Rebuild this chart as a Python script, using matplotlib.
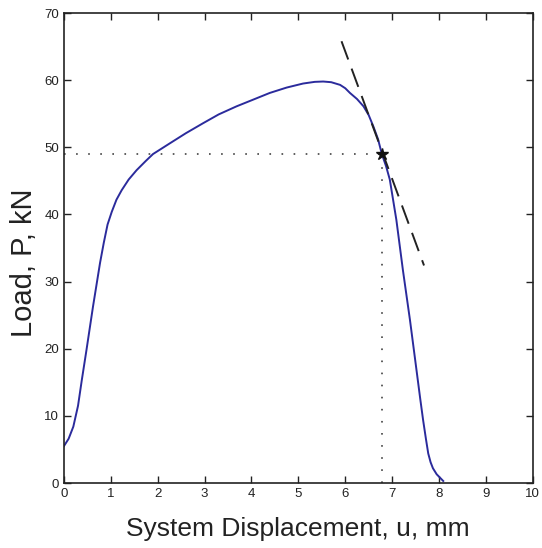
import numpy as np
import matplotlib
matplotlib.use("Agg")
import matplotlib.pyplot as plt

plt.rcParams['font.family'] = ['Liberation Sans', 'DejaVu Sans']
plt.rcParams['lines.scale_dashes'] = False

# load-displacement curve
disp = [0.0, 0.1, 0.2, 0.3, 0.38, 0.48, 0.62, 0.77, 0.85, 0.93, 1.02, 1.12, 1.23,
        1.38, 1.55, 1.75, 1.9, 2.26, 2.6, 2.97, 3.3, 3.68, 4.0, 4.39, 4.75, 5.10,
        5.35, 5.53, 5.7, 5.89, 6.0, 6.10, 6.25, 6.39, 6.50, 6.60, 6.70, 6.78, 6.87,
        6.95, 7.09, 7.23, 7.38, 7.52, 7.60, 7.66, 7.72, 7.77, 7.82, 7.87, 7.95,
        8.02, 8.09]
load = [5.5, 6.6, 8.4, 11.5, 15.3, 19.8, 26.3, 32.8, 35.8, 38.5, 40.4, 42.2, 43.6,
        45.2, 46.6, 48.0, 49.0, 50.6, 52.1, 53.6, 54.9, 56.1, 57.0, 58.1, 58.9, 59.5,
        59.75, 59.8, 59.7, 59.3, 58.8, 58.1, 57.2, 56.1, 54.8, 53.1, 51.2, 49.0, 47.2,
        45.2, 39.2, 31.7, 24.3, 16.8, 12.5, 9.4, 6.6, 4.4, 3.1, 2.2, 1.3,
        0.8, 0.3]

# marked point and tangent line
pt_u, pt_p = 6.78, 49.0
tan_u = [5.92, 7.68]
tan_p = [65.8, 32.4]

fig = plt.figure(figsize=(5.42, 5.48), dpi=100)
ax = fig.add_axes([0.118, 0.1186, 0.865, 0.8576])

ax.plot([0, pt_u], [pt_p, pt_p], color='#333333', lw=1.1, ls=(0, (1.2, 7.5)))
ax.plot([pt_u, pt_u], [0, pt_p], color='#333333', lw=1.1, ls=(0, (1.2, 7.5)))
ax.plot(disp, load, color='#2b2b9c', lw=1.4)
ax.plot(tan_u, tan_p, color='#222222', lw=1.4, ls=(0, (14, 7)))
ax.plot([pt_u], [pt_p], marker='*', color='#111111', ms=9)

ax.set_xlim(0, 10)
ax.set_ylim(0, 70)
ax.set_xticks(range(0, 11))
ax.set_yticks(range(0, 71, 10))
ax.tick_params(direction='in', length=5, width=1, top=True, right=True,
               labelsize=9.5, colors='#222222')
for s in ax.spines.values():
    s.set_linewidth(1.2)
    s.set_color('#222222')

ax.set_xlabel('System Displacement, u, mm', fontsize=19, color='#222222')
ax.set_ylabel('Load, P, kN', fontsize=21, color='#222222')
ax.xaxis.set_label_coords(0.498, -0.072)
ax.yaxis.label.set_va('center')
ax.yaxis.set_label_coords(-0.086, 0.468)

fig.savefig('out.png', dpi=100)
